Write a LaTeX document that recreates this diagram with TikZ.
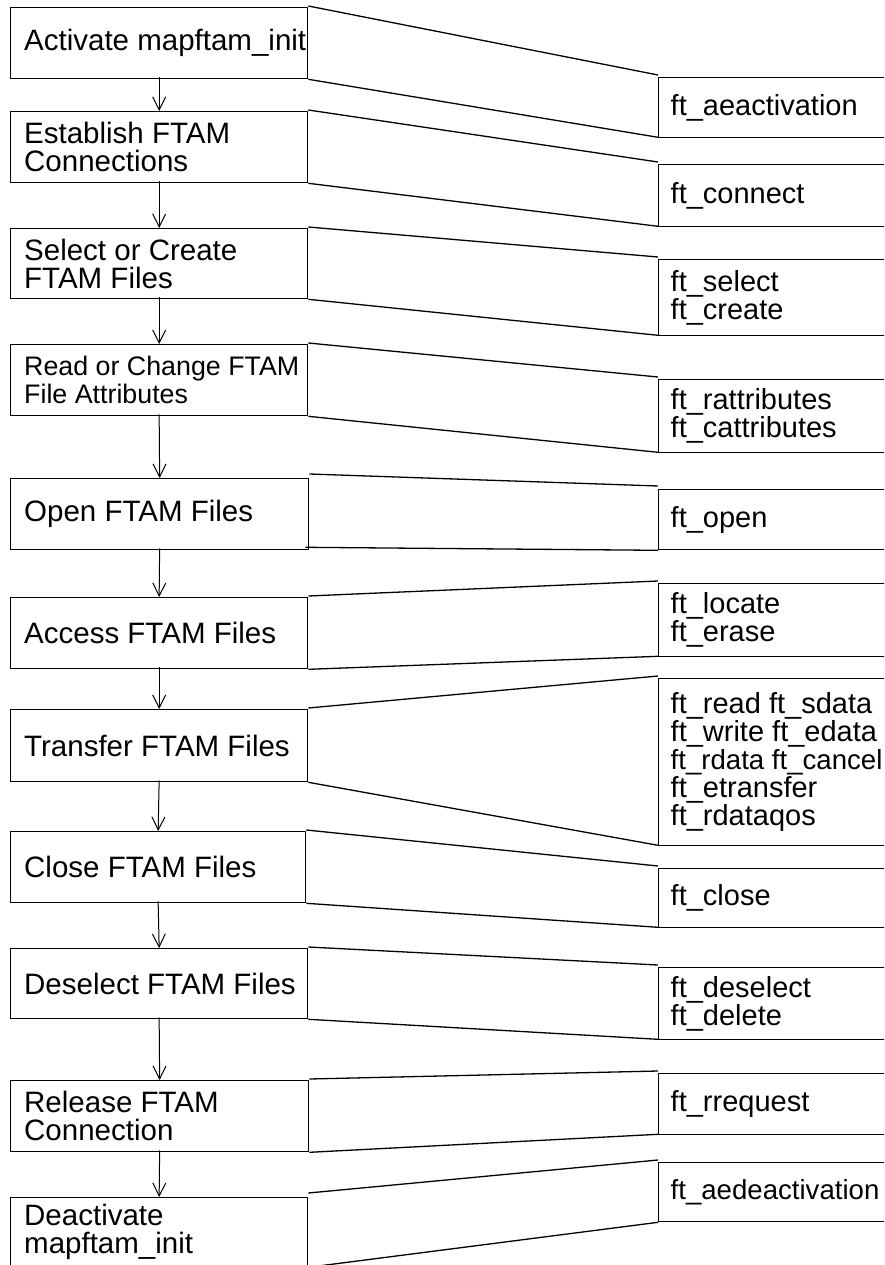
\documentclass[tikz,border=0pt]{standalone}
\usepackage{fontspec}
\setmainfont{Liberation Sans}
\usetikzlibrary{arrows.meta}
\newcommand\bigtxt{\fontsize{29.5pt}{28pt}\selectfont}
\newcommand\fntxt{\fontsize{29pt}{28pt}\selectfont}
\newcommand\smalltxt{\fontsize{26.8pt}{28pt}\selectfont}
\newcommand\narrowtxt{\fontsize{27.6pt}{28pt}\selectfont}
\begin{document}
\begin{tikzpicture}[x=1pt,y=-1pt,
  stepbox/.style={draw, line width=1.3pt, anchor=north west, inner sep=0pt, minimum width=297pt},
  fnbox/.style={draw, line width=1.3pt, anchor=north west, inner sep=0pt, minimum width=342pt},
  txt/.style={anchor=west, align=left, inner sep=0pt, font=\bigtxt},
  fntext/.style={anchor=west, align=left, inner sep=0pt, font=\fntxt},
  conn/.style={line width=1.3pt},
  flow/.style={line width=1pt, -{Straight Barb[length=13pt,width=13pt]}}]
\useasboundingbox (0,0) rectangle (884,1265);
\clip (0,0) rectangle (884,1265);

% left column
\node[stepbox, minimum height=71pt] (b1) at (10,7) {};
\node[stepbox, minimum height=71pt] (b2) at (10,111) {};
\node[stepbox, minimum height=70pt] (b3) at (10,228) {};
\node[stepbox, minimum height=71pt] (b4) at (10,344) {};
\node[stepbox, minimum height=71pt, minimum width=298pt] (b5) at (10,478) {};
\node[stepbox, minimum height=71pt] (b6) at (10,597) {};
\node[stepbox, minimum height=72pt] (b7) at (10,709) {};
\node[stepbox, minimum height=71pt, minimum width=295pt] (b8) at (10,831) {};
\node[stepbox, minimum height=70pt] (b9) at (10,948) {};
\node[stepbox, minimum height=71pt, minimum width=298pt] (b10) at (10,1080) {};
\node[stepbox, minimum height=69pt] (b11) at (10,1197) {};

\node[txt] (b1t) at ([xshift=14pt]b1.west) {Activate mapftam\_init};
\node[txt] (b2t) at ([xshift=14pt]b2.west) {Establish FTAM\\Connections};
\node[txt] (b3t) at ([xshift=14pt]b3.west) {Select or Create\\FTAM Files};
\node[txt, font=\smalltxt] (b4t) at ([xshift=14pt]b4.west) {Read or Change FTAM\\File Attributes};
\node[txt] (b5t) at ([xshift=14pt]b5.west) {Open FTAM Files};
\node[txt] (b6t) at ([xshift=14pt]b6.west) {Access FTAM Files};
\node[txt] (b7t) at ([xshift=14pt]b7.west) {Transfer FTAM Files};
\node[txt] (b8t) at ([xshift=14pt]b8.west) {Close FTAM Files};
\node[txt] (b9t) at ([xshift=14pt]b9.west) {Deselect FTAM Files};
\node[txt] (b10t) at ([xshift=14pt]b10.west) {Release FTAM\\Connection};
\node[txt] (b11t) at ([xshift=14pt]b11.west) {Deactivate\\mapftam\_init};

% right column
\node[fnbox, minimum height=60pt] (r1) at (658,77) {};
\node[fnbox, minimum height=62pt] (r2) at (658,164) {};
\node[fnbox, minimum height=76pt] (r3) at (658,259) {};
\node[fnbox, minimum height=73pt] (r4) at (658,379) {};
\node[fnbox, minimum height=60pt] (r5) at (658,489) {};
\node[fnbox, minimum height=73pt] (r6) at (658,583) {};
\node[fnbox, minimum height=167pt] (r7) at (658,678) {};
\node[fnbox, minimum height=59pt] (r8) at (658,868) {};
\node[fnbox, minimum height=72pt] (r9) at (658,967) {};
\node[fnbox, minimum height=61pt] (r10) at (658,1073) {};
\node[fnbox, minimum height=59pt] (r11) at (658,1162) {};

\node[fntext] (r1t) at ([xshift=12.5pt]r1.west) {ft\_aeactivation};
\node[fntext] (r2t) at ([xshift=12.5pt]r2.west) {ft\_connect};
\node[fntext] (r3t) at ([xshift=12.5pt]r3.west) {ft\_select\\ft\_create};
\node[fntext] (r4t) at ([xshift=12.5pt]r4.west) {ft\_rattributes\\ft\_cattributes};
\node[fntext] (r5t) at ([xshift=12.5pt]r5.west) {ft\_open};
\node[fntext] (r6t) at ([xshift=12.5pt]r6.west) {ft\_locate\\ft\_erase};
\node[fntext] (r7t) at ([xshift=12.5pt]r7.west) {ft\_read ft\_sdata\\ft\_write ft\_edata\\{\narrowtxt ft\_rdata ft\_cancel}\\ft\_etransfer\\ft\_rdataqos};
\node[fntext] (r8t) at ([xshift=12.5pt]r8.west) {ft\_close};
\node[fntext] (r9t) at ([xshift=12.5pt]r9.west) {ft\_deselect\\ft\_delete};
\node[fntext] (r10t) at ([xshift=12.5pt]r10.west) {ft\_rrequest};
\node[fntext, font=\narrowtxt] (r11t) at ([xshift=12.5pt]r11.west) {ft\_aedeactivation};

% flow arrows
\foreach \a/\b in {b1/b2,b2/b3,b3/b4,b4/b5,b5/b6,b6/b7,b7/b8,b8/b9,b9/b10,b10/b11}
  \draw[flow] ([yshift=2pt]\a.south) -- (\b.north);

% connectors to function boxes
\foreach \i in {1,2,3,4,6,7,8,9,10}{
  \draw[conn] ([yshift=1pt]b\i.north east) -- ([yshift=2pt]r\i.north west);
  \draw[conn] (b\i.south east) -- ([yshift=1pt]r\i.south west);
}
\draw[conn] ([yshift=4pt]b5.north east) -- ([yshift=3pt]r5.north west);
\draw[conn] ([xshift=-4pt,yshift=3pt]b5.south east) -- (r5.south west);
\draw[conn] ([yshift=4pt]b11.north east) -- ([yshift=2pt]r11.north west);
\draw[conn] (b11.south east) -- (r11.south west);
\end{tikzpicture}
\end{document}
